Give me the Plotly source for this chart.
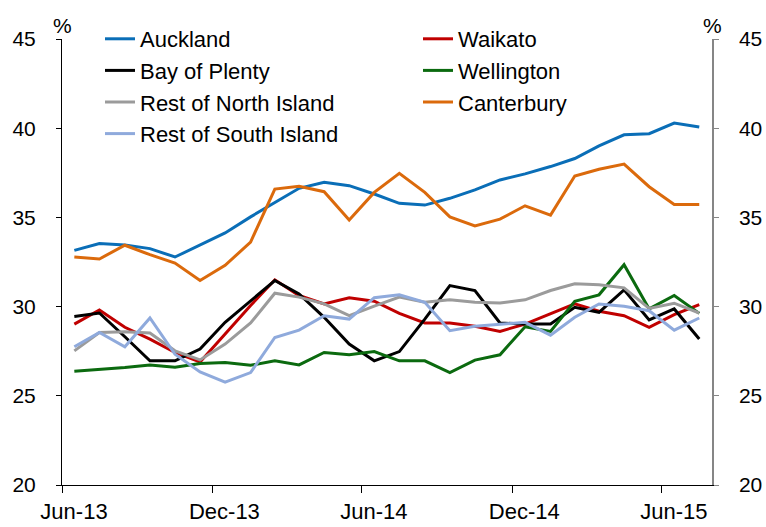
import plotly.graph_objects as go

# months (points sit in the middle of each month)
months = ["2013-06", "2013-07", "2013-08", "2013-09", "2013-10", "2013-11",
          "2013-12", "2014-01", "2014-02", "2014-03", "2014-04", "2014-05",
          "2014-06", "2014-07", "2014-08", "2014-09", "2014-10", "2014-11",
          "2014-12", "2015-01", "2015-02", "2015-03", "2015-04", "2015-05",
          "2015-06", "2015-07"]

auckland = [33.15, 33.53, 33.45, 33.25, 32.78, 33.44, 34.13, 35.03, 35.82, 36.63, 36.97, 36.78, 36.31,
            35.79, 35.69, 36.07, 36.54, 37.10, 37.44, 37.85, 38.30, 39.01, 39.63, 39.69, 40.29, 40.07]
waikato = [29.02, 29.81, 28.84, 28.18, 27.43, 26.90, 28.46, 30.06, 31.50, 30.62, 30.15, 30.49, 30.30,
           29.62, 29.08, 29.08, 28.90, 28.61, 29.02, 29.59, 30.15, 29.74, 29.49, 28.84, 29.55, 30.11]
bay_of_plenty = [29.45, 29.64, 28.31, 26.96, 26.96, 27.62, 29.12, 30.34, 31.46, 30.71, 29.40, 27.90, 26.96,
                 27.48, 29.30, 31.18, 30.90, 29.08, 29.02, 29.02, 29.96, 29.68, 30.94, 29.25, 29.87, 28.18]
wellington = [26.38, 26.47, 26.58, 26.73, 26.60, 26.81, 26.86, 26.71, 26.96, 26.73, 27.43, 27.30, 27.48,
              26.96, 26.96, 26.30, 27.00, 27.30, 28.87, 28.61, 30.30, 30.66, 32.35, 29.87, 30.62, 29.62]
rest_north = [27.52, 28.55, 28.59, 28.52, 27.52, 27.01, 27.90, 29.08, 30.75, 30.53, 30.15, 29.49, 30.03,
              30.53, 30.24, 30.38, 30.24, 30.20, 30.38, 30.90, 31.28, 31.22, 31.05, 29.90, 30.19, 29.64]
canterbury = [32.78, 32.67, 33.44, 32.91, 32.44, 31.46, 32.31, 33.62, 36.59, 36.74, 36.44, 34.85, 36.40,
              37.47, 36.40, 35.03, 34.52, 34.90, 35.65, 35.13, 37.32, 37.70, 37.99, 36.72, 35.73, 35.73]
rest_south = [27.75, 28.55, 27.75, 29.36, 27.33, 26.34, 25.77, 26.30, 28.27, 28.68, 29.49, 29.30, 30.50,
              30.66, 30.24, 28.65, 28.90, 28.99, 29.12, 28.40, 29.40, 30.15, 30.02, 29.77, 28.68, 29.36]

y_ticks = [20, 25, 30, 35, 40, 45]

# name, values, colour, which legend column
series = [
    ("Auckland", auckland, "#0A6EB7", "legend"),
    ("Waikato", waikato, "#C00000", "legend2"),
    ("Bay of Plenty", bay_of_plenty, "#000000", "legend"),
    ("Wellington", wellington, "#0B6A0F", "legend2"),
    ("Rest of North Island", rest_north, "#9B9B9B", "legend"),
    ("Canterbury", canterbury, "#DB6A0C", "legend2"),
    ("Rest of South Island", rest_south, "#8FAADC", "legend"),
]

FONT = "Liberation Sans, Arial, sans-serif"

fig = go.Figure()
for i, (name, vals, col, leg) in enumerate(series):
    # last series goes on the right-hand axis (same range) so that axis gets drawn
    fig.add_trace(go.Scatter(x=months, y=vals, name=name, mode="lines",
                             xperiod="M1", xperiodalignment="middle",
                             line=dict(color=col, width=3), legend=leg,
                             yaxis="y2" if i == len(series) - 1 else "y"))

fig.update_layout(
    width=766, height=527,
    margin=dict(l=62, r=54, t=39, b=42, autoexpand=False),
    paper_bgcolor="white", plot_bgcolor="white",
    font=dict(family=FONT, color="black", size=20),
    xaxis=dict(type="date", range=["2013-06-01", "2015-08-01"],
               tick0="2013-06-01", dtick="M6", tickformat="%b-%y",
               showgrid=False, zeroline=False,
               showline=True, linecolor="black", linewidth=1,
               ticks="outside", ticklen=7, tickcolor="black",
               ticklabelshift=12, ticklabelstandoff=0,
               tickfont=dict(size=22)),
    yaxis=dict(range=[20, 45], tickvals=y_ticks, showgrid=False, zeroline=False,
               showline=True, linecolor="black", linewidth=1,
               ticks="outside", ticklen=5, tickcolor="black",
               ticklabelstandoff=16, tickfont=dict(size=21)),
    yaxis2=dict(range=[20, 45], tickvals=y_ticks, overlaying="y", side="right",
                anchor="x", showgrid=False, zeroline=False,
                showline=True, linecolor="#868686", linewidth=1.5,
                ticks="outside", ticklen=5, tickcolor="#868686",
                ticklabelstandoff=16, tickfont=dict(size=21)),
    legend=dict(xref="container", yref="container", x=100 / 766, y=1 - 18 / 527,
                xanchor="left", yanchor="top", bgcolor="rgba(0,0,0,0)",
                font=dict(size=22), tracegroupgap=0),
    legend2=dict(xref="container", yref="container", x=418 / 766, y=1 - 18 / 527,
                 xanchor="left", yanchor="top", bgcolor="rgba(0,0,0,0)",
                 font=dict(size=22), tracegroupgap=0),
    showlegend=True,
)

# "%" unit labels above each axis
fig.add_annotation(text="%", xref="paper", yref="paper", x=0, y=1, yshift=14,
                   xanchor="center", yanchor="middle", showarrow=False, font=dict(size=21))
fig.add_annotation(text="%", xref="paper", yref="paper", x=1, y=1, yshift=14,
                   xanchor="center", yanchor="middle", showarrow=False, font=dict(size=21))

# drop the browser's default body margin so the figure sits at the page corner
fig.write_html("out.html", config={"displayModeBar": False},
               post_script="document.body.style.margin='0';")
